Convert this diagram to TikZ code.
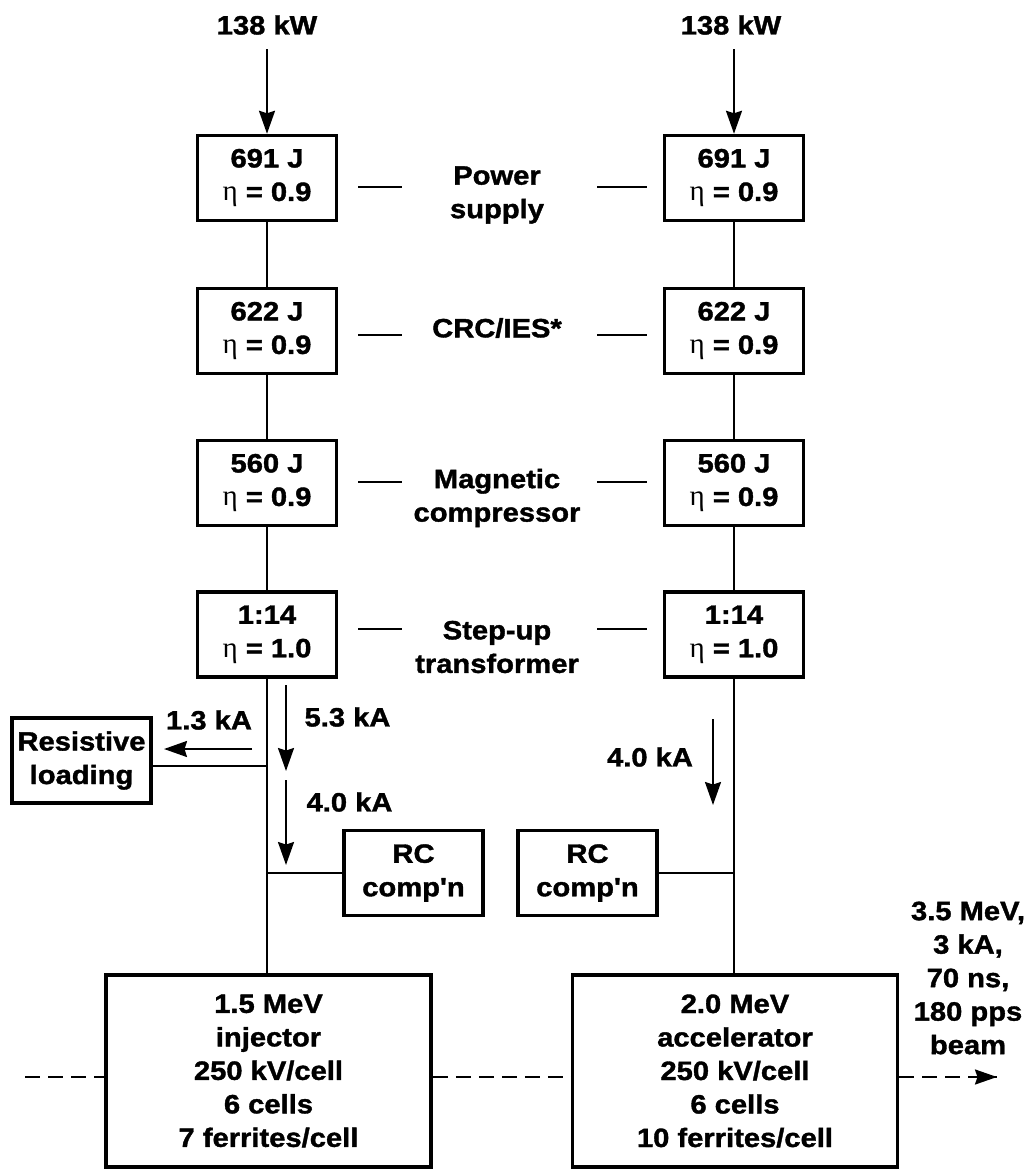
\documentclass[tikz,border=0pt]{standalone}
\usepackage{fontspec}
\setmainfont{Liberation Sans}[Ligatures=TeXOff, FakeStretch=1.1, BoldFeatures={FakeBold=1.4}]
\newfontfamily\etafont{Liberation Serif}
\usetikzlibrary{arrows.meta,calc}
\newcommand{\eeta}{{\mdseries\etafont\fontsize{29}{33.5}\selectfont η}}
\begin{document}
\begin{tikzpicture}[x=1pt,y=-1pt,
  font=\fontsize{26.5}{33.5}\selectfont\bfseries,
  stagebox/.style={draw, line width=3.5pt, minimum width=139pt, minimum height=85pt, inner sep=0pt, align=center},
  bigbox/.style={draw, line width=3.5pt, minimum width=325pt, minimum height=192pt, inner sep=0pt, align=center},
  lbl/.style={inner sep=0pt, align=center},
  wire/.style={line width=2pt},
  tick/.style={line width=2.2pt},
  arr/.style={line width=2.2pt, -{Stealth[length=23pt,width=16pt,inset=2.5pt]}},
  beamline/.style={line width=2.2pt, dash pattern=on 15pt off 8pt}
]
\useasboundingbox (0,0) rectangle (1028,1171);

% input labels and arrows
\node[lbl] (inL) at (267,25) {138 kW};
\node[lbl] (inR) at (731,25) {138 kW};
\coordinate (aL) at (267,49);
\coordinate (aR) at (734,49);

% stage boxes, left column
\node[stagebox] (L1) at (267,178) {691 J\\\eeta{} = 0.9};
\node[stagebox] (L2) at (267,331) {622 J\\\eeta{} = 0.9};
\node[stagebox] (L3) at (267,483) {560 J\\\eeta{} = 0.9};
\node[stagebox] (L4) at (267,634.5) {1:14\\\eeta{} = 1.0};
% stage boxes, right column
\node[stagebox] (R1) at (734,178) {691 J\\\eeta{} = 0.9};
\node[stagebox] (R2) at (734,331) {622 J\\\eeta{} = 0.9};
\node[stagebox] (R3) at (734,483) {560 J\\\eeta{} = 0.9};
\node[stagebox] (R4) at (734,634.5) {1:14\\\eeta{} = 1.0};

% middle labels
\node[lbl] (m1) at (497,195) {Power\\supply};
\node[lbl] (m2) at (497,328) {CRC/IES*};
\node[lbl] (m3) at (497,498) {Magnetic\\compressor};
\node[lbl] (m4) at (497,647) {Step-up\\transformer};

\draw[tick] (358,187) -- (402,187);  \draw[tick] (597,187) -- (647,187);
\draw[tick] (358,335) -- (402,335);  \draw[tick] (597,335) -- (647,335);
\draw[tick] (358,482) -- (402,482);  \draw[tick] (597,482) -- (647,482);
\draw[tick] (358,629) -- (402,629);  \draw[tick] (597,629) -- (647,629);

% lower boxes
\node[stagebox] (RL) at (81.5,760.5) {Resistive\\loading};
\node[stagebox] (RCL) at (413.5,873) {RC\\comp'n};
\node[stagebox] (RCR) at (587.5,873) {RC\\comp'n};
\node[bigbox] (LB) at (268.5,1071) {1.5 MeV\\injector\\250 kV/cell\\6 cells\\7 ferrites/cell};
\node[bigbox] (RB) at (735,1071) {2.0 MeV\\accelerator\\250 kV/cell\\6 cells\\10 ferrites/cell};

% beam label
\node[lbl] (beam) at (968,978) {3.5 MeV,\\3 kA,\\70 ns,\\180 pps\\beam};

% current labels
\node[lbl] (c13) at (209,720) {1.3 kA};
\node[lbl] (c53) at (347.5,717) {5.3 kA};
\node[lbl] (c40L) at (349.5,802) {4.0 kA};
\node[lbl] (c40R) at (650,757) {4.0 kA};

% input arrows
\draw[arr] (aL) -- (L1.north);
\draw[arr] (aR) -- (R1.north);

% vertical chains
\draw[wire] (L1.south) -- (L2.north);
\draw[wire] (L2.south) -- (L3.north);
\draw[wire] (L3.south) -- (L4.north);
\draw[wire] (L4.south) -- (L4.south |- LB.north);
\draw[wire] (R1.south) -- (R2.north);
\draw[wire] (R2.south) -- (R3.north);
\draw[wire] (R3.south) -- (R4.north);
\draw[wire] (R4.south) -- (R4.south |- RB.north);

% branches
\coordinate (jR) at (267,766);
\draw[wire] (jR) -- (jR -| RL.east);
\draw[wire] (RCL.west) -- (RCL.west -| L4.south);
\draw[wire] (RCR.east) -- (RCR.east -| R4.south);

% current arrows
\coordinate (a13s) at (252,749); \coordinate (a13e) at (164,749);
\draw[arr] (a13s) -- (a13e);
\coordinate (a53s) at (286,685); \coordinate (a53e) at (286,771);
\draw[arr] (a53s) -- (a53e);
\coordinate (a40s) at (286,780); \coordinate (a40e) at (286,865);
\draw[arr] (a40s) -- (a40e);
\coordinate (b40s) at (713,719); \coordinate (b40e) at (713,805);
\draw[arr] (b40s) -- (b40e);

% beam line
\coordinate (bin) at (25,1077);
\coordinate (bout) at (997,1077);
\draw[beamline] (bin) -- (bin -| LB.west);
\draw[beamline] (LB.east |- bin) -- (bin -| RB.west);
\draw[beamline] (RB.east |- bin) -- (bout);
\draw[line width=2.2pt, -{Stealth[length=22pt,width=15pt,inset=2.5pt]}] ($(bout)+(-2,0)$) -- (bout);
\end{tikzpicture}
\end{document}
